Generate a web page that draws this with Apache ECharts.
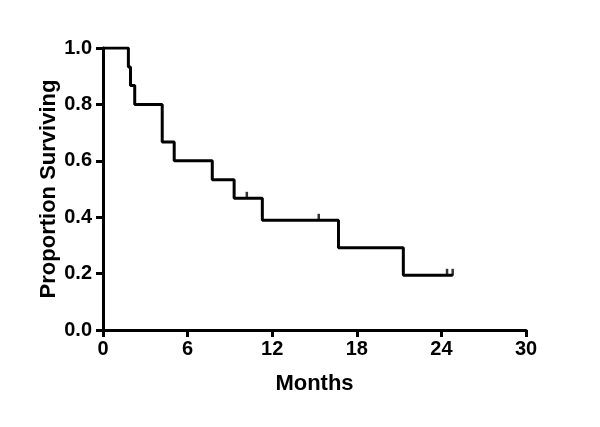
<!DOCTYPE html>
<html>
<head>
<meta charset="utf-8">
<script src="https://cdn.jsdelivr.net/npm/echarts@6/dist/echarts.min.js"></script>
<style>html,body{margin:0;padding:0;background:#fff}#c{width:600px;height:427px}</style>
</head>
<body>
<div id="c"></div>
<script>
// Kaplan-Meier step points (month, proportion surviving)
const stepTimes = [0, 1.8, 1.95, 2.25, 4.2, 5.05, 7.75, 9.3, 11.3, 16.7, 21.3, 24.8];
const stepSurvival = [1.0, 0.933, 0.867, 0.8, 0.667, 0.6, 0.533, 0.467, 0.389, 0.292, 0.194, 0.194];
// Censored observations
const censorTimes = [10.2, 15.3, 24.4, 24.8];
const censorSurvival = [0.467, 0.389, 0.194, 0.194];
const xTicks = [0, 6, 12, 18, 24, 30];
const yTicks = [0.0, 0.2, 0.4, 0.6, 0.8, 1.0];

const font = 'Liberation Sans, Arial, sans-serif';
const chart = echarts.init(document.getElementById('c'));
chart.setOption({
  animation: false,
  backgroundColor: '#fff',
  grid: { left: 103, right: 74, top: 48, bottom: 97, containLabel: false },
  xAxis: {
    type: 'value', min: xTicks[0], max: xTicks[xTicks.length - 1], interval: 6,
    name: 'Months', nameLocation: 'middle', nameGap: 43, nameMoveOverlap: false,
    nameTextStyle: { fontFamily: font, fontWeight: 'bold', fontSize: 22, color: '#000' },
    axisLine: { show: true, onZero: false, lineStyle: { color: '#000', width: 3 } },
    axisTick: { show: true, length: 7, lineStyle: { color: '#000', width: 3 } },
    axisLabel: { fontFamily: font, fontWeight: 'bold', fontSize: 20, color: '#000', margin: 9 },
    splitLine: { show: false }
  },
  yAxis: {
    type: 'value', min: yTicks[0], max: yTicks[yTicks.length - 1], interval: 0.2,
    name: 'Proportion Surviving', nameLocation: 'middle', nameGap: 43, nameMoveOverlap: false,
    nameTextStyle: { fontFamily: font, fontWeight: 'bold', fontSize: 22, color: '#000' },
    axisLine: { show: true, onZero: false, lineStyle: { color: '#000', width: 3 } },
    axisTick: { show: true, length: 7, lineStyle: { color: '#000', width: 3 } },
    axisLabel: { fontFamily: font, fontWeight: 'bold', fontSize: 20, color: '#000', margin: 11,
      formatter: v => v.toFixed(1) },
    splitLine: { show: false }
  },
  series: [
    {
      type: 'line', step: 'end', showSymbol: false, symbol: 'none',
      data: stepTimes.map((t, i) => [t, stepSurvival[i]]),
      lineStyle: { color: '#000', width: 3 }, z: 3
    },
    {
      type: 'scatter', symbol: 'rect', symbolSize: [2.5, 7], symbolOffset: [0, -3],
      data: censorTimes.map((t, i) => [t, censorSurvival[i]]),
      itemStyle: { color: '#000' }, z: 4
    }
  ]
});
</script>
</body>
</html>
